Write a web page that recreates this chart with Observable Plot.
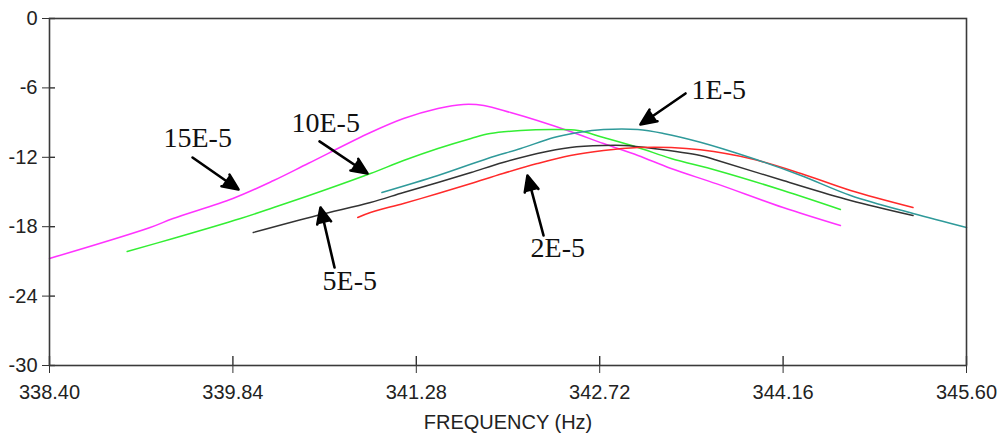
<!DOCTYPE html>
<html><head><meta charset="utf-8">
<script src="https://cdn.jsdelivr.net/npm/d3@7"></script>
<script src="https://cdn.jsdelivr.net/npm/@observablehq/plot@0.6"></script>
<style>html,body{margin:0;padding:0;background:#fff;} svg{display:block}</style>
</head><body><div id="chart"></div>
<script>
// Frequency ticks (Hz) and level ticks (dB)
const xTicks = [338.40, 339.84, 341.28, 342.72, 344.16, 345.60];
const yTicks = [0, -6, -12, -18, -24, -30];

// 15E-5 (magenta)
const f15 = [338.40, 339.19, 339.37, 339.84, 340.16, 340.43, 340.92, 341.18, 341.45, 341.65, 341.81, 342.02, 342.23, 342.49, 342.75, 343.02, 343.28, 343.64, 344.16, 344.61];
const v15 = [-20.75, -18.07, -17.29, -15.56, -14.01, -12.54, -9.86, -8.65, -7.78, -7.43, -7.52, -8.13, -8.82, -9.77, -10.81, -11.84, -12.97, -14.30, -16.34, -17.90];
// 10E-5 (green)
const f10 = [339.01, 339.37, 339.90, 340.16, 340.55, 340.92, 341.18, 341.45, 341.71, 341.86, 342.10, 342.36, 342.55, 342.75, 343.02, 343.28, 343.64, 344.16, 344.61];
const v10 = [-20.14, -19.02, -17.29, -16.34, -14.87, -13.40, -12.28, -11.24, -10.37, -9.94, -9.68, -9.60, -9.68, -10.29, -11.15, -12.10, -13.14, -14.87, -16.51];
// 5E-5 (black)
const f5 = [340.00, 340.50, 340.92, 341.18, 341.45, 341.71, 341.96, 342.23, 342.49, 342.75, 342.91, 343.14, 343.51, 343.64, 344.16, 344.69, 345.18];
const v5 = [-18.50, -17.03, -15.91, -15.04, -14.18, -13.31, -12.45, -11.67, -11.15, -10.98, -10.98, -11.24, -11.85, -12.25, -14.01, -15.73, -17.03];
// 2E-5 (red)
const f2 = [340.82, 340.92, 341.18, 341.45, 341.71, 341.96, 342.23, 342.49, 342.75, 343.02, 343.28, 343.51, 343.90, 344.30, 344.69, 345.18];
const v2 = [-17.20, -16.77, -15.99, -15.13, -14.26, -13.40, -12.54, -11.84, -11.41, -11.15, -11.15, -11.35, -12.10, -13.40, -14.87, -16.34];
// 1E-5 (teal)
const f1 = [341.01, 341.45, 341.84, 342.10, 342.36, 342.55, 342.75, 343.02, 343.22, 343.51, 343.90, 344.30, 344.69, 345.18, 345.60];
const v1 = [-15.04, -13.57, -12.10, -11.24, -10.29, -9.86, -9.60, -9.60, -9.94, -10.70, -12.02, -13.57, -15.30, -16.86, -18.07];

// Annotations (label, label position, arrow from -> to), in data units
const annLabels = ["15E-5", "10E-5", "5E-5", "2E-5", "1E-5"];
const annX = [339.295, 340.300, 340.544, 342.177, 343.441];
const annY = [-11.07, -9.77, -23.43, -20.66, -6.92];
const arrX1 = [339.523, 340.520, 340.638, 342.279, 343.394];
const arrY1 = [-12.02, -10.63, -21.53, -18.76, -6.48];
const arrX2 = [339.884, 340.897, 340.528, 342.153, 343.04];
const arrY2 = [-14.78, -13.40, -16.34, -13.57, -9.16];

const series = [
  {name: "15E-5", f: f15, v: v15, color: "#ff33ff"},
  {name: "10E-5", f: f10, v: v10, color: "#33ee33"},
  {name: "5E-5", f: f5, v: v5, color: "#333333"},
  {name: "2E-5", f: f2, v: v2, color: "#ff2a2a"},
  {name: "1E-5", f: f1, v: v1, color: "#2f9a9a"}
];

const lineMarks = series.map(s => Plot.line(s.f.map((f, i) => ({f, v: s.v[i]})), {
  x: "f", y: "v", stroke: s.color, strokeWidth: 1.5, curve: "catmull-rom"
}));

const ann = annLabels.map((t, i) => ({t, x: annX[i], y: annY[i], x1: arrX1[i], y1: arrY1[i], x2: arrX2[i], y2: arrY2[i]}));

const xMin = 338.40, xMax = 345.60;
const plot = Plot.plot({
  width: 1002,
  height: 441,
  marginLeft: 49,
  marginRight: 36,
  marginTop: 18,
  marginBottom: 76,
  style: {fontFamily: "Liberation Sans, Arial, sans-serif", fontSize: "20px", color: "#222", background: "#fff"},
  x: {domain: [xMin, xMax]},
  y: {domain: [-30, 0]},
  marks: [
    Plot.axisX({ticks: xTicks, tickFormat: d => d.toFixed(2), tickSize: 8, tickPadding: 11, label: null, stroke: "#333", fill: "#222"}),
    Plot.axisY({ticks: yTicks, tickFormat: d => String(d), tickSize: 7, tickPadding: 5, label: null, stroke: "#333", fill: "#222"}),
    Plot.ruleY(yTicks, {x1: xMin, x2: xMin + 0.047, stroke: "#333", strokeWidth: 1.4}),
    Plot.ruleX(xTicks, {y1: -30, y2: -29.22, stroke: "#333", strokeWidth: 1.4}),
    ...lineMarks,
    Plot.frame({stroke: "#3a3a3a", strokeWidth: 1.6}),
    Plot.arrow(ann, {x1: "x1", y1: "y1", x2: "x2", y2: "y2", stroke: "#000", strokeWidth: 2.6, headLength: 10, headAngle: 48}),
    Plot.text(ann, {x: "x", y: "y", text: "t", textAnchor: "start", lineAnchor: "bottom", fontFamily: "Liberation Serif, Times New Roman, serif", fontSize: 28, fill: "#111"}),
    Plot.text(["FREQUENCY (Hz)"], {frameAnchor: "bottom", text: d => d, dy: 63, fontSize: 20, fill: "#222"})
  ]
});
document.getElementById("chart").appendChild(plot);
// fill the arrowheads (the head is an open sub-path; filling closes it into a triangle)
plot.querySelectorAll('g[aria-label="arrow"] path').forEach(p => { p.setAttribute("fill", "#000"); p.setAttribute("stroke-linejoin", "miter"); });
</script>
</body></html>
